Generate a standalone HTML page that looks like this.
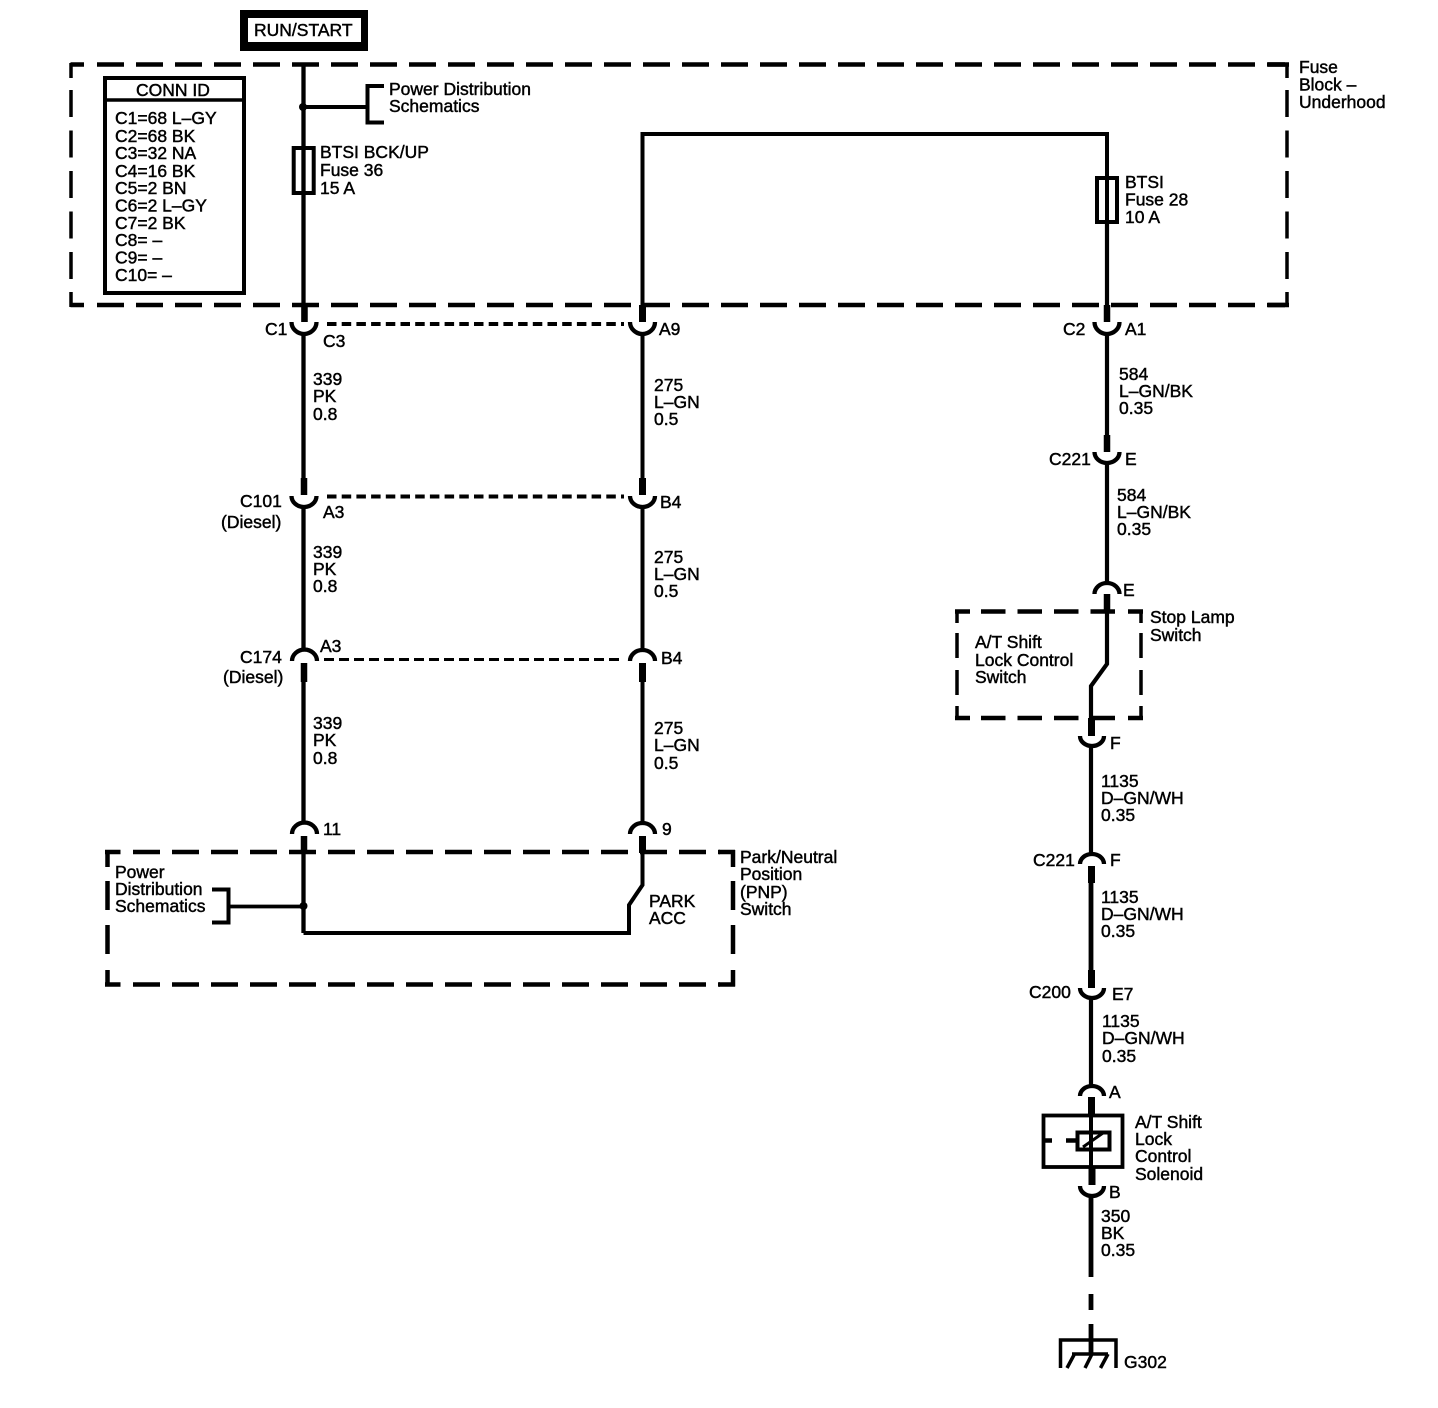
<!DOCTYPE html>
<html><head><meta charset="utf-8"><style>
html,body{margin:0;padding:0;background:#fff}
svg{display:block}
text{font-family:"Liberation Sans",sans-serif;font-size:17.5px;fill:#000;stroke:#000;stroke-width:.45px}
.l{fill:none;stroke:#000;stroke-linecap:butt}
</style></head><body>
<svg width="1438" height="1408" viewBox="0 0 1438 1408" xmlns="http://www.w3.org/2000/svg">
<rect width="1438" height="1408" fill="#fff"/>
<!-- RUN/START -->
<rect x="240" y="10" width="128" height="41" fill="#000"/>
<rect x="248" y="18" width="113" height="24" fill="#fff"/>
<text x="254" y="36">RUN/START</text>
<!-- Outer dashed box -->
<g class="l" stroke-width="4.500">
<path d="M97 64.500H1285" stroke-dasharray="27 12"/>
<path d="M97 305H1285" stroke-dasharray="27 12"/>
<path d="M84 64.500H70.500M84 305H70.500M1268 64.500H1289M1268 305H1289"/>
</g>
<g class="l" stroke-width="3.500">
<path d="M71 63V78M71 292V307M1287 63V78M1287 292V307"/>
<path d="M71 90V280" stroke-dasharray="27 13.500"/>
<path d="M1287 90V280" stroke-dasharray="27 13.500"/>
</g>
<!-- CONN ID -->
<rect x="105" y="78" width="139" height="215" class="l" stroke-width="4"/>
<path d="M105 100H244" class="l" stroke-width="3.500"/>
<text x="136" y="96">CONN ID</text>
<text x="115" y="124">C1=68 L–GY</text>
<text x="115" y="142">C2=68 BK</text>
<text x="115" y="159">C3=32 NA</text>
<text x="115" y="177">C4=16 BK</text>
<text x="115" y="194">C5=2 BN</text>
<text x="115" y="211.500">C6=2 L–GY</text>
<text x="115" y="229">C7=2 BK</text>
<text x="115" y="246">C8= –</text>
<text x="115" y="263.500">C9= –</text>
<text x="115" y="281">C10= –</text>
<!-- Left wire -->
<path d="M303.500 64V322M303.500 334V478M303.500 508V651M303.500 682V822M303.500 852V933" class="l" stroke-width="4.300"/>
<path d="M304.500 305V322M304 478V495M304 663V682M304 836V853" class="l" stroke-width="6.500"/>
<path d="M291.500 322a12.500 12 0 0 0 25 0M291.500 496a12.500 11 0 0 0 25 0" class="l" stroke-width="4.300"/>
<path d="M292 661a12 11 0 0 1 25 0M292 834a12 11 0 0 1 25 0" class="l" stroke-width="4.300"/>
<circle cx="303" cy="107" r="4"/>
<path d="M303 107H367" class="l" stroke-width="4"/>
<path d="M384 86H367.500V122.500H384" class="l" stroke-width="4"/>
<rect x="293.700" y="148" width="20" height="45" class="l" stroke-width="4"/>
<text x="389" y="95">Power Distribution</text>
<text x="389" y="112">Schematics</text>
<text x="320" y="158">BTSI BCK/UP</text>
<text x="320" y="176">Fuse 36</text>
<text x="320" y="194">15 A</text>
<text x="265" y="335">C1</text>
<text x="323" y="347">C3</text>
<text x="313" y="385">339</text><text x="313" y="402">PK</text><text x="313" y="420">0.8</text>
<text x="240" y="507">C101</text>
<text x="221" y="528">(Diesel)</text>
<text x="323" y="518">A3</text>
<text x="313" y="558">339</text><text x="313" y="575">PK</text><text x="313" y="592">0.8</text>
<text x="240" y="663">C174</text>
<text x="223" y="683">(Diesel)</text>
<text x="320" y="652">A3</text>
<text x="313" y="729">339</text><text x="313" y="746">PK</text><text x="313" y="764">0.8</text>
<text x="323" y="835">11</text>
<!-- Shield dashes -->
<path d="M327 324H624" class="l" stroke-width="4" stroke-dasharray="9.500 5.200"/>
<path d="M327 496.500H624" class="l" stroke-width="4" stroke-dasharray="9.500 5.200"/>
<path d="M324 659.500H624" class="l" stroke-width="3" stroke-dasharray="10 5"/>
<!-- Middle wire -->
<path d="M1107 220V134H642.500V322M642.500 334V478M642.500 508V651M642.500 682V822M642.500 852V885L629 905V933H303.500" class="l" stroke-width="4"/>
<path d="M642.500 305V322M642.500 478V495M642.500 663V682M642.500 836V853" class="l" stroke-width="7"/>
<path d="M630 322a12.500 12 0 0 0 25 0M630 496a12.500 11 0 0 0 25 0" class="l" stroke-width="4.300"/>
<path d="M630 661a12.500 11 0 0 1 25 0M630 834a12.500 11 0 0 1 25 0" class="l" stroke-width="4.300"/>
<text x="659" y="335">A9</text>
<text x="654" y="391">275</text><text x="654" y="408">L–GN</text><text x="654" y="425">0.5</text>
<text x="660" y="508">B4</text>
<text x="654" y="563">275</text><text x="654" y="580">L–GN</text><text x="654" y="597">0.5</text>
<text x="661" y="664">B4</text>
<text x="654" y="734">275</text><text x="654" y="751">L–GN</text><text x="654" y="769">0.5</text>
<text x="662" y="835">9</text>
<!-- PNP box -->
<g class="l" stroke-width="4.500">
<path d="M133 852H720" stroke-dasharray="27 12"/>
<path d="M133 984.500H720" stroke-dasharray="27 12"/>
<path d="M120.500 852H105M120.500 984.500H105M719 852H735M719 984.500H735"/>
</g>
<g class="l" stroke-width="4.500">
<path d="M107.500 850V867M107.500 970V986.500M733 850V867M733 970V986.500"/>
<path d="M107.500 881V954" stroke-dasharray="29 15"/>
<path d="M733 881V954" stroke-dasharray="29 15"/>
</g>
<circle cx="303.500" cy="906" r="4"/>
<path d="M303 906.500H229" class="l" stroke-width="3.800"/>
<path d="M212 889.500H228.500V922.500H212" class="l" stroke-width="4"/>
<text x="115" y="878">Power</text>
<text x="115" y="895">Distribution</text>
<text x="115" y="912">Schematics</text>
<text x="740" y="863">Park/Neutral</text>
<text x="740" y="880">Position</text>
<text x="740" y="898">(PNP)</text>
<text x="740" y="915">Switch</text>
<text x="649" y="907">PARK</text>
<text x="649" y="924">ACC</text>
<!-- Right wire -->
<rect x="1097" y="178" width="20" height="44" class="l" stroke-width="4"/>
<path d="M1107 222V322M1107 334V435M1107 464V583M1107 612V664L1091 686V718M1091 748V853M1091 1000V1086" class="l" stroke-width="4.200"/>
<path d="M1107 305V322M1107 435V452M1107 594V612" class="l" stroke-width="6.500"/>
<path d="M1091.500 718V736M1091.500 866V883M1091.500 970V988M1091.500 1097V1115M1092 1168V1185" class="l" stroke-width="7"/>
<path d="M1091 883V970M1091 1197V1277M1091 1294V1310M1091 1324V1353" class="l" stroke-width="4.800"/>
<path d="M1094.500 322a12.500 12 0 0 0 25 0M1094.500 452a12.500 11 0 0 0 25 0" class="l" stroke-width="4.300"/>
<path d="M1094.500 594a12.500 11 0 0 1 25 0" class="l" stroke-width="4.300"/>
<path d="M1080 736a12 10 0 0 0 24 0M1080 988a12 10 0 0 0 24 0M1080 1186a12 10 0 0 0 24 0" class="l" stroke-width="4.300"/>
<path d="M1080 864a12 10 0 0 1 24 0M1080 1096a12 10 0 0 1 24 0" class="l" stroke-width="4.300"/>
<!-- Stop lamp box -->
<g class="l" stroke-width="4.500">
<path d="M981 611.500H1118" stroke-dasharray="24.500 12"/>
<path d="M981 718H1118" stroke-dasharray="24.500 12"/>
<path d="M970 611.500H955M970 718H955M1128 611.500H1143M1128 718H1143"/>
</g>
<g class="l" stroke-width="3.500">
<path d="M957 610V623M957 706V720M1141 610V623M1141 706V720"/>
<path d="M957 633V695" stroke-dasharray="25 12"/>
<path d="M1141 633V695" stroke-dasharray="25 12"/>
</g>
<!-- Solenoid -->
<rect x="1043.500" y="1115.500" width="79" height="51.500" class="l" stroke-width="3.800"/>
<path d="M1042 1140.500H1052M1066 1140.500H1077" class="l" stroke-width="4.500"/>
<rect x="1077.500" y="1132.500" width="32" height="17" class="l" stroke-width="4" fill="none"/>
<path d="M1091 1115V1168" class="l" stroke-width="4"/>
<path d="M1083 1147L1103 1133" class="l" stroke-width="3"/>
<!-- Ground -->
<path d="M1060.500 1368V1340H1116V1368" class="l" stroke-width="3.500"/>
<path d="M1072 1354H1108M1074.500 1354L1067 1368M1092 1354L1085 1368M1108 1354L1100.500 1368" class="l" stroke-width="3.500"/>
<text x="1125" y="188">BTSI</text><text x="1125" y="205.500">Fuse 28</text><text x="1125" y="223">10 A</text>
<text x="1299" y="73">Fuse</text><text x="1299" y="90.500">Block –</text><text x="1299" y="108">Underhood</text>
<text x="1063" y="335">C2</text><text x="1125" y="335">A1</text>
<text x="1119" y="380">584</text><text x="1119" y="397">L–GN/BK</text><text x="1119" y="414">0.35</text>
<text x="1049" y="465">C221</text><text x="1125" y="465">E</text>
<text x="1117" y="501">584</text><text x="1117" y="518">L–GN/BK</text><text x="1117" y="535">0.35</text>
<text x="1123" y="596">E</text>
<text x="1150" y="623">Stop Lamp</text><text x="1150" y="641">Switch</text>
<text x="975" y="648">A/T Shift</text><text x="975" y="666">Lock Control</text><text x="975" y="683">Switch</text>
<text x="1110" y="749">F</text>
<text x="1101" y="787">1135</text><text x="1101" y="804">D–GN/WH</text><text x="1101" y="821">0.35</text>
<text x="1033" y="866">C221</text><text x="1110" y="866">F</text>
<text x="1101" y="903">1135</text><text x="1101" y="920">D–GN/WH</text><text x="1101" y="937">0.35</text>
<text x="1029" y="998">C200</text><text x="1112" y="1000">E7</text>
<text x="1102" y="1027">1135</text><text x="1102" y="1044">D–GN/WH</text><text x="1102" y="1062">0.35</text>
<text x="1109" y="1098">A</text>
<text x="1135" y="1128">A/T Shift</text><text x="1135" y="1145">Lock</text><text x="1135" y="1162">Control</text><text x="1135" y="1180">Solenoid</text>
<text x="1109" y="1198">B</text>
<text x="1101" y="1222">350</text><text x="1101" y="1239">BK</text><text x="1101" y="1256">0.35</text>
<text x="1124" y="1368">G302</text>
</svg>
</body></html>
